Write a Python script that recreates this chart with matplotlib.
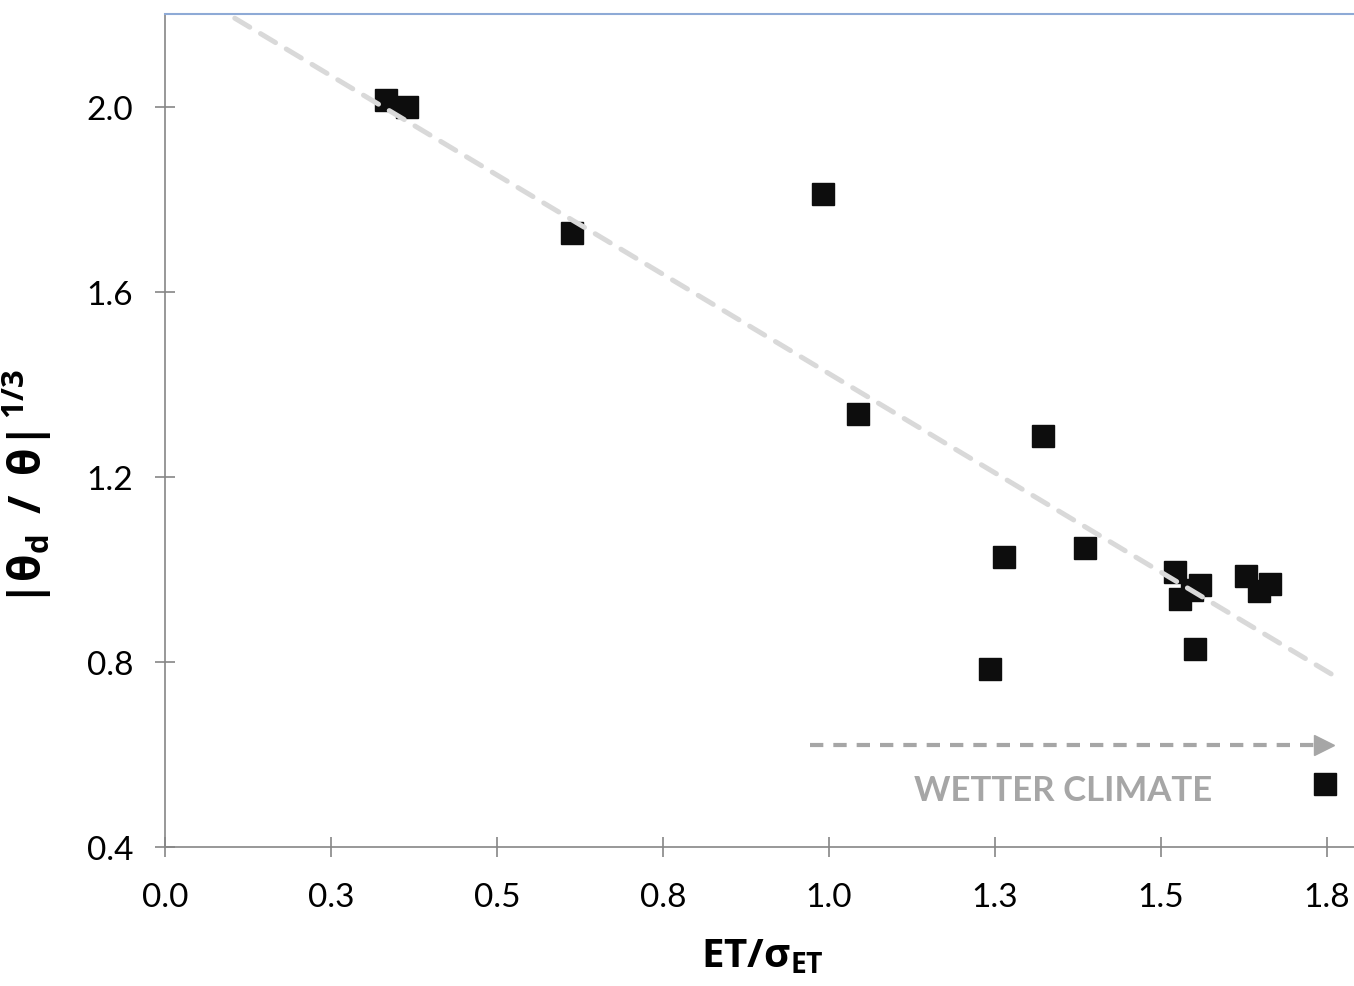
import numpy as np
import matplotlib
matplotlib.use("Agg")
import matplotlib.pyplot as plt

# values
et_ratio = [0.333, 0.364, 0.613, 0.991, 1.044, 1.322, 1.264, 1.242, 1.385,
            1.521, 1.559, 1.529, 1.547, 1.551, 1.628, 1.664, 1.648, 1.747]
theta_ratio = [2.015, 1.998, 1.726, 1.810, 1.335, 1.288, 1.026, 0.785, 1.047,
               0.994, 0.966, 0.936, 0.955, 0.828, 0.985, 0.968, 0.953, 0.536]

x_ticks = [0.0, 0.25, 0.5, 0.75, 1.0, 1.25, 1.5, 1.75]
x_tick_labels = ["0.0", "0.3", "0.5", "0.8", "1.0", "1.3", "1.5", "1.8"]
y_ticks = [0.4, 0.8, 1.2, 1.6, 2.0]
y_tick_labels = ["0.4", "0.8", "1.2", "1.6", "2.0"]

# trendline as drawn in the reference (slope, intercept, x extent)
trend_coef = [-0.858, 2.281]
trend_x_range = [0.105, 1.77]
arrow_x = [0.971, 1.745]
arrow_y = 0.62
note_xy = (1.352, 0.523)

plt.rcParams['font.family'] = ['Lato', 'Open Sans', 'DejaVu Sans']
plt.rcParams['mathtext.fontset'] = 'custom'
plt.rcParams['mathtext.rm'] = 'Open Sans'
plt.rcParams['mathtext.it'] = 'Open Sans:italic'
plt.rcParams['mathtext.bf'] = 'Open Sans:bold'

fig = plt.figure(figsize=(13.54, 9.87), dpi=100)
ax = fig.add_axes([0.1219, 0.1408, 0.8826, 0.844])

############################## TREND + ARROW ##################################
tx = np.array(trend_x_range)
ax.plot(tx, np.polyval(trend_coef, tx), color="#d9d9d9", lw=3.6,
        dashes=(3.5, 2.5), dash_capstyle="round", zorder=3)

ax.plot(arrow_x, [arrow_y, arrow_y], color="#a6a6a6", lw=3.0,
        dashes=(3.2, 2.4), zorder=2)
ax.plot([arrow_x[1]], [arrow_y], marker=">", color="#a6a6a6",
        markersize=14, zorder=2)
ax.text(note_xy[0], note_xy[1], "WETTER CLIMATE", color="#a6a6a6",
        fontsize=25, fontweight="bold", ha="center", va="center")

############################## POINTS #########################################
ax.plot(et_ratio, theta_ratio, linestyle="none", marker="s",
        markersize=16.5, color="#0d0d0d", zorder=2)

############################## AXES ###########################################
ax.set_xlim(0, 1.8)
ax.set_ylim(0.4, 2.2)
ax.set_xticks(x_ticks)
ax.set_xticklabels(x_tick_labels)
ax.set_yticks(y_ticks)
ax.set_yticklabels(y_tick_labels)
ax.tick_params(direction="inout", length=14, width=1.2, color="#868686",
               labelsize=24)
ax.tick_params(axis="x", pad=18)
ax.tick_params(axis="y", pad=16)

ax.spines["right"].set_visible(False)
ax.spines["top"].set_color("#8eaad6")
ax.spines["top"].set_linewidth(1.5)
for s in ("left", "bottom"):
    ax.spines[s].set_color("#868686")
    ax.spines[s].set_linewidth(1.2)

ax.set_xlabel(r"$\mathbf{ET/σ_{ET}}$", fontsize=29, labelpad=18)
ax.set_ylabel(r"$\mathbf{|θ_d\ \,/\ \,θ|^{\,1/3}}$", fontsize=32)
ax.yaxis.set_label_coords(-0.093, 0.433)

fig.savefig("out.png", dpi=100)
